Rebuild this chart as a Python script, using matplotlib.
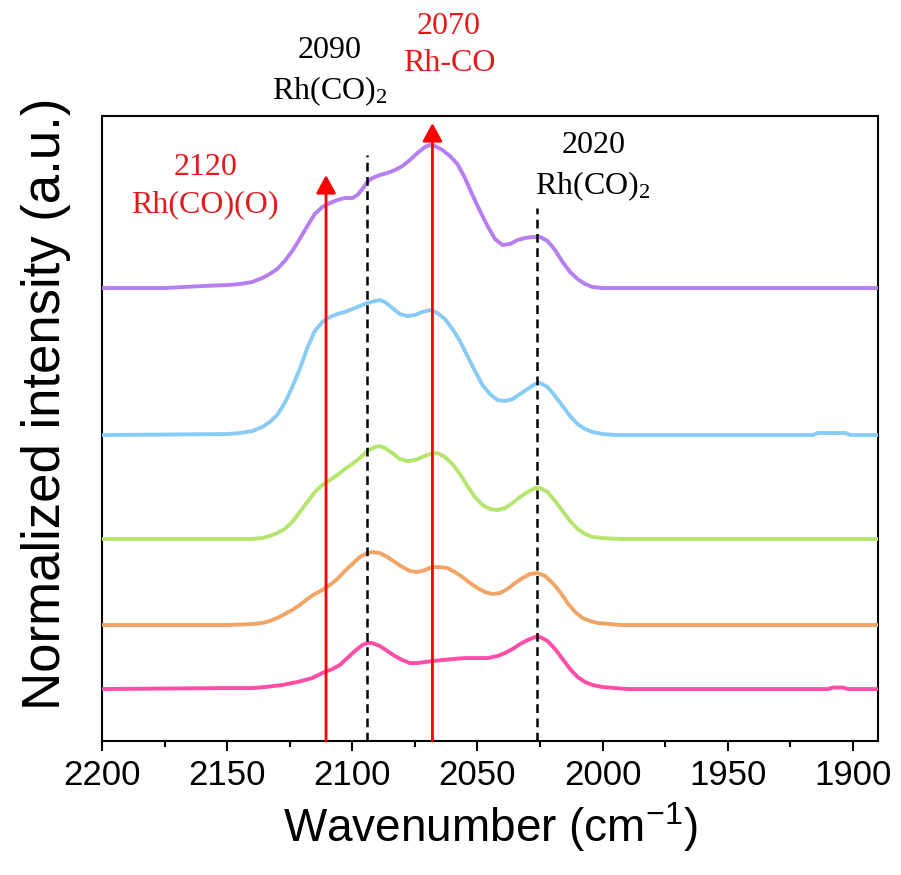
import matplotlib
matplotlib.use("Agg")
import matplotlib.pyplot as plt
from matplotlib.ticker import MultipleLocator

plt.rcParams['mathtext.fontset'] = 'custom'
plt.rcParams['mathtext.rm'] = 'Liberation Sans'

# spectra, bottom to top: wavenumber (cm-1) and intensity above each baseline
pink_w = [2200, 2150, 2140, 2135, 2128, 2122, 2116, 2112, 2108, 2105,
          2102, 2099, 2096, 2094, 2092, 2089, 2086, 2083, 2080, 2077,
          2074, 2071, 2068, 2064, 2060, 2055, 2050, 2046, 2042, 2039,
          2036, 2033, 2030, 2027, 2025, 2022, 2019, 2016, 2013, 2010,
          2007, 2004, 2000, 1995, 1990, 1910, 1908, 1904, 1902, 1890]
pink_i = [0.0, 0.01, 0.01, 0.02, 0.04, 0.07, 0.11, 0.16, 0.20, 0.24,
          0.31, 0.38, 0.44, 0.46, 0.46, 0.43, 0.38, 0.33, 0.29, 0.26,
          0.26, 0.27, 0.28, 0.29, 0.30, 0.31, 0.31, 0.31, 0.33, 0.36,
          0.40, 0.45, 0.49, 0.52, 0.52, 0.48, 0.40, 0.30, 0.20, 0.12,
          0.07, 0.04, 0.02, 0.01, 0.0, 0.0, 0.015, 0.015, 0.0, 0.0]

orange_w = [2200, 2150, 2140, 2136, 2133, 2130, 2127, 2124, 2121, 2118,
            2115, 2112, 2109, 2106, 2103, 2100, 2097, 2094, 2092, 2089,
            2086, 2083, 2080, 2077, 2074, 2071, 2068, 2065, 2062, 2059,
            2056, 2053, 2050, 2047, 2044, 2041, 2038, 2035, 2032, 2029,
            2026, 2023, 2020, 2017, 2014, 2011, 2008, 2005, 2002, 1997,
            1993, 1890]
orange_i = [0.0, 0.0, 0.01, 0.02, 0.04, 0.07, 0.11, 0.15, 0.20, 0.26,
            0.31, 0.35, 0.40, 0.46, 0.54, 0.61, 0.68, 0.72, 0.73, 0.72,
            0.68, 0.63, 0.58, 0.54, 0.53, 0.55, 0.58, 0.58, 0.57, 0.53,
            0.48, 0.42, 0.37, 0.33, 0.31, 0.32, 0.36, 0.42, 0.47, 0.51,
            0.52, 0.49, 0.42, 0.33, 0.22, 0.13, 0.07, 0.04, 0.02, 0.01,
            0.0, 0.0]

green_w = [2200, 2150, 2140, 2136, 2133, 2130, 2127, 2124, 2121, 2118,
           2115, 2112, 2109, 2106, 2103, 2100, 2097, 2094, 2091, 2089,
           2087, 2084, 2081, 2078, 2075, 2072, 2069, 2066, 2063, 2060,
           2057, 2054, 2051, 2048, 2045, 2042, 2039, 2036, 2033, 2030,
           2027, 2025, 2022, 2019, 2016, 2013, 2010, 2007, 2004, 2000,
           1993, 1890]
green_i = [0.0, 0.0, 0.0, 0.01, 0.03, 0.06, 0.10, 0.17, 0.27, 0.37,
           0.47, 0.54, 0.59, 0.64, 0.70, 0.75, 0.81, 0.88, 0.92, 0.93,
           0.91, 0.86, 0.80, 0.78, 0.79, 0.82, 0.85, 0.86, 0.82, 0.75,
           0.65, 0.53, 0.42, 0.34, 0.30, 0.29, 0.31, 0.36, 0.42, 0.47,
           0.51, 0.51, 0.47, 0.38, 0.28, 0.18, 0.10, 0.05, 0.02, 0.01,
           0.0, 0.0]

blue_w = [2200, 2150, 2145, 2140, 2136, 2133, 2130, 2127, 2124, 2121,
          2118, 2115, 2112, 2109, 2106, 2103, 2100, 2097, 2094, 2091,
          2089, 2087, 2084, 2081, 2078, 2075, 2072, 2069, 2066, 2063,
          2060, 2057, 2054, 2051, 2048, 2045, 2042, 2039, 2036, 2033,
          2030, 2027, 2025, 2022, 2019, 2016, 2013, 2010, 2007, 2004,
          2000, 1995, 1916, 1914, 1903, 1901, 1890]
blue_i = [0.0, 0.01, 0.02, 0.04, 0.08, 0.13, 0.20, 0.32, 0.48, 0.66,
          0.87, 1.04, 1.13, 1.18, 1.21, 1.23, 1.26, 1.29, 1.32, 1.34,
          1.35, 1.33, 1.27, 1.21, 1.19, 1.20, 1.23, 1.25, 1.22, 1.16,
          1.06, 0.94, 0.79, 0.64, 0.50, 0.41, 0.35, 0.34, 0.36, 0.41,
          0.46, 0.51, 0.52, 0.48, 0.39, 0.29, 0.19, 0.11, 0.06, 0.03,
          0.01, 0.0, 0.0, 0.02, 0.02, 0.0, 0.0]

purple_w = [2200, 2175, 2160, 2150, 2145, 2140, 2136, 2133, 2130, 2127,
            2124, 2121, 2118, 2115, 2112, 2109, 2106, 2103, 2100, 2098,
            2096, 2094, 2092, 2089, 2086, 2083, 2080, 2077, 2074, 2071,
            2069, 2067, 2064, 2061, 2058, 2055, 2052, 2049, 2046, 2043,
            2040, 2037, 2034, 2031, 2028, 2025, 2022, 2019, 2016, 2013,
            2010, 2007, 2004, 2000, 1993, 1890]
purple_i = [0.0, 0.0, 0.02, 0.03, 0.04, 0.06, 0.10, 0.14, 0.19, 0.27,
            0.37, 0.49, 0.62, 0.74, 0.81, 0.85, 0.88, 0.90, 0.90, 0.93,
            0.99, 1.06, 1.10, 1.13, 1.15, 1.18, 1.22, 1.28, 1.35, 1.41,
            1.43, 1.42, 1.38, 1.32, 1.24, 1.10, 0.93, 0.77, 0.62, 0.49,
            0.43, 0.44, 0.48, 0.50, 0.51, 0.51, 0.47, 0.38, 0.26, 0.16,
            0.09, 0.04, 0.01, 0.0, 0.0, 0.0]

offsets = [0.52, 1.16, 2.02, 3.06, 4.53]
colors = ['#ff4da8', '#f0a567', '#b5e56c', '#88ccf5', '#b77ef0']

# band markers
arrow_pos = [2110.5, 2068.0]
arrow_top = [5.66, 6.18]
dash_pos = [2094.1, 2026.1]
dash_top = [5.86, 5.33]

labels = ["2120\nRh(CO)(O)", "2090\nRh(CO)$\\mathregular{_2}$",
          "2070\nRh-CO", "2020\nRh(CO)$\\mathregular{_2}$"]
label_x = [2158.8, 2108.9, 2061.4, 2003.8]
label_y = [5.55, 6.69, 6.96, 5.74]
label_c = ['#e31a1c', 'black', '#e31a1c', 'black']

fig = plt.figure(figsize=(9.01, 8.75), dpi=100)
ax = fig.add_axes([0.1132, 0.1531, 0.8613, 0.7143])

series = [(pink_w, pink_i), (orange_w, orange_i), (green_w, green_i),
          (blue_w, blue_i), (purple_w, purple_i)]
for (w, inten), off, c in zip(series, offsets, colors):
    ax.plot(w, [v + off for v in inten], color=c, lw=2.8,
            solid_joinstyle='round', solid_capstyle='round', zorder=3)

for x, top in zip(dash_pos, dash_top):
    ax.plot([x, x], [0, top], color='black', lw=1.8, ls=(0, (3.5, 2.2)), zorder=4)

for x, top in zip(arrow_pos, arrow_top):
    ax.annotate('', xy=(x, top), xytext=(x, 0),
                arrowprops=dict(arrowstyle='-|>,head_length=0.55,head_width=0.3',
                                mutation_scale=20, color='#ff0000', lw=2.0,
                                shrinkA=0, shrinkB=0), zorder=5)

for t, x, y, c in zip(labels, label_x, label_y, label_c):
    ax.text(x, y, t, color=c, fontsize=23, family='Liberation Serif',
            ha='center', va='center', linespacing=1.35, clip_on=False)

ax.set_xlim(2200, 1890)
ax.set_ylim(0, 6.25)
ax.set_yticks([])
ax.xaxis.set_major_locator(MultipleLocator(50))
ax.xaxis.set_minor_locator(MultipleLocator(25))
ax.tick_params(axis='x', which='major', direction='out', length=7, width=1.5,
               labelsize=25, pad=6)
ax.tick_params(axis='x', which='minor', direction='out', length=4, width=1.5)
for lab in ax.get_xticklabels():
    lab.set_family('Liberation Sans')
for s in ax.spines.values():
    s.set_linewidth(1.5)

ax.set_xlabel("Wavenumber (cm$\\mathregular{^{-1}}$)", fontsize=33,
              family='Liberation Sans', labelpad=6)
ax.set_ylabel("Normalized intensity (a.u.)", fontsize=38, family='Liberation Sans')
ax.yaxis.set_label_coords(-0.04, 0.54)

fig.savefig("out.png", dpi=100)
